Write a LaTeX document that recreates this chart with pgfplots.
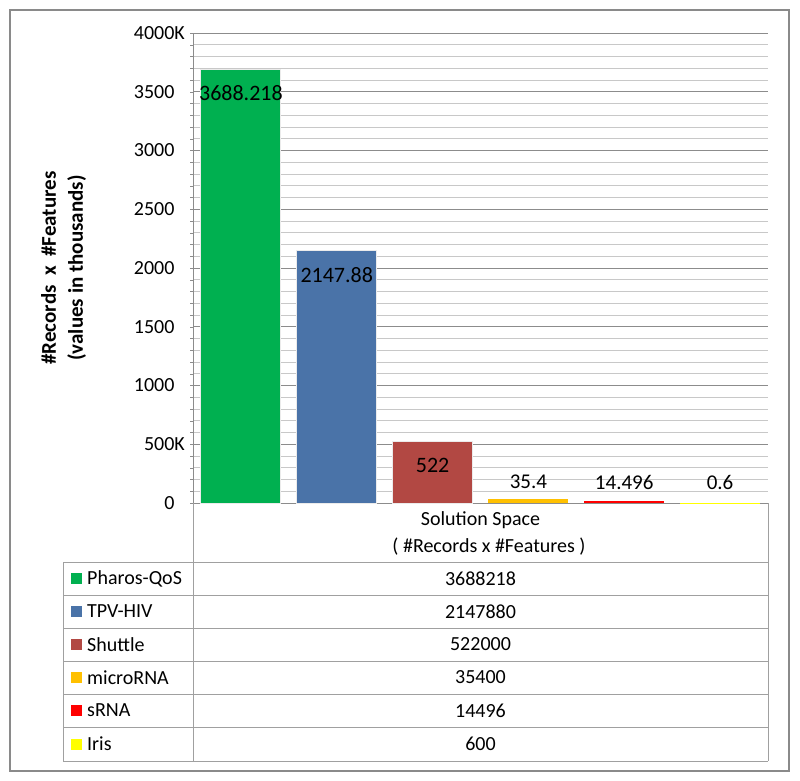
\documentclass[border=0pt]{standalone}
\usepackage{pgfplots}
\pgfplotsset{compat=1.18}
\usepackage{fontspec}
\setmainfont{Carlito}
\definecolor{cgreen}{HTML}{00B050}
\definecolor{cblue}{HTML}{4A73A8}
\definecolor{cred}{HTML}{B24843}
\definecolor{corange}{HTML}{FFC000}
\definecolor{csred}{HTML}{FF0000}
\definecolor{cyellow}{HTML}{FFFF00}
\definecolor{majgrid}{HTML}{8C8C8C}
\definecolor{mingrid}{HTML}{C8C8C8}
\definecolor{framec}{HTML}{8A8A8A}
\definecolor{tablec}{HTML}{A0A0A0}
\begin{document}
\begin{tikzpicture}
\path (0pt,0pt) rectangle (800pt,-781pt);
\begin{axis}[
  at={(193pt,-503pt)}, anchor=south west,
  scale only axis, width=575pt, height=470pt,
  xmin=0, xmax=6, ymin=0, ymax=4000,
  axis x line*=bottom, axis y line*=left,
  axis line style={draw=majgrid, line width=1pt},
  xtick=\empty,
  ytick={0,500,...,4000},
  yticklabels={0\phantom{K},500K,1000\phantom{K},1500\phantom{K},2000\phantom{K},2500\phantom{K},3000\phantom{K},3500\phantom{K},4000K},
  minor y tick num=4,
  ymajorgrids, yminorgrids,
  major grid style={draw=majgrid, line width=0.9pt},
  minor grid style={draw=mingrid, line width=0.8pt},
  tick align=outside,
  major tick length=3pt, minor tick length=3pt,
  ytick style={draw=majgrid},
  minor tick style={draw=majgrid},
  yticklabel style={font=\fontsize{20}{24}\selectfont, inner sep=0pt, xshift=-5pt},
  clip=false,
]
\addplot[ybar, bar width=80pt, bar shift=0pt, fill=cgreen, draw=black!8, line width=1pt,
  nodes near coords={3688.218},
  every node near coord/.append style={anchor=center, yshift=-23pt, font=\fontsize{22}{26}\selectfont, text=black}]
  coordinates {(0.5,3688.218)};
\addplot[ybar, bar width=80pt, bar shift=0pt, fill=cblue, draw=black!8, line width=1pt,
  nodes near coords={2147.88},
  every node near coord/.append style={anchor=center, yshift=-24pt, font=\fontsize{22}{26}\selectfont, text=black}]
  coordinates {(1.5,2147.88)};
\addplot[ybar, bar width=80pt, bar shift=0pt, fill=cred, draw=black!8, line width=1pt,
  nodes near coords={522},
  every node near coord/.append style={anchor=center, yshift=-24pt, font=\fontsize{22}{26}\selectfont, text=black}]
  coordinates {(2.5,522)};
\addplot[ybar, bar width=80pt, bar shift=0pt, fill=corange, draw=none,
  nodes near coords={35.4},
  every node near coord/.append style={anchor=center, yshift=16.8pt, font=\fontsize{21}{25}\selectfont, text=black}]
  coordinates {(3.5,35.4)};
\addplot[ybar, bar width=80pt, bar shift=0pt, fill=csred, draw=none,
  nodes near coords={14.496},
  every node near coord/.append style={anchor=center, yshift=19.3pt, font=\fontsize{21}{25}\selectfont, text=black}]
  coordinates {(4.5,14.496)};
\addplot[ybar, bar width=80pt, bar shift=0pt, fill=cyellow, draw=none,
  nodes near coords={0.6},
  every node near coord/.append style={anchor=center, yshift=20.9pt, font=\fontsize{21}{25}\selectfont, text=black}]
  coordinates {(5.5,0.6)};
\end{axis}
\begin{scope}[x=1pt,y=-1pt]
\draw[framec, line width=1.5pt] (10,10) rectangle (789,771);
\draw[tablec, line width=1pt] (193,503) -- (193,761);
\draw[tablec, line width=1pt] (768,503) -- (768,761);
\draw[tablec, line width=1pt] (63,562) -- (63,761);
\foreach \yy in {562,595,628,661,694,727,761} \draw[tablec, line width=1pt] (63,\yy) -- (768,\yy);
\node[font=\fontsize{20}{24}\selectfont] at (480.5,520) {Solution Space};
\node[font=\fontsize{20}{24}\selectfont] at (489,547) {( \#Records x \#Features )};
\foreach \c/\col/\name/\val in {578.5/cgreen/Pharos-QoS/3688218, 611.5/cblue/TPV-HIV/2147880, 644.5/cred/Shuttle/522000, 677.5/corange/microRNA/35400, 710.5/csred/sRNA/14496, 744/cyellow/Iris/600}{
  \fill[\col] (71,\c-5.5) rectangle (82,\c+5.5);
  \node[anchor=west, inner sep=0pt, font=\fontsize{20}{24}\selectfont] at (87,\c) {\name};
  \node[font=\fontsize{20}{24}\selectfont] at (480.5,\c) {\val};
}
\node[rotate=90, align=center, font=\bfseries\fontsize{21}{27}\selectfont] at (63.5,268) {\#Records~ x~ \#Features\\(values in thousands)};
\end{scope}
\end{tikzpicture}
\end{document}
